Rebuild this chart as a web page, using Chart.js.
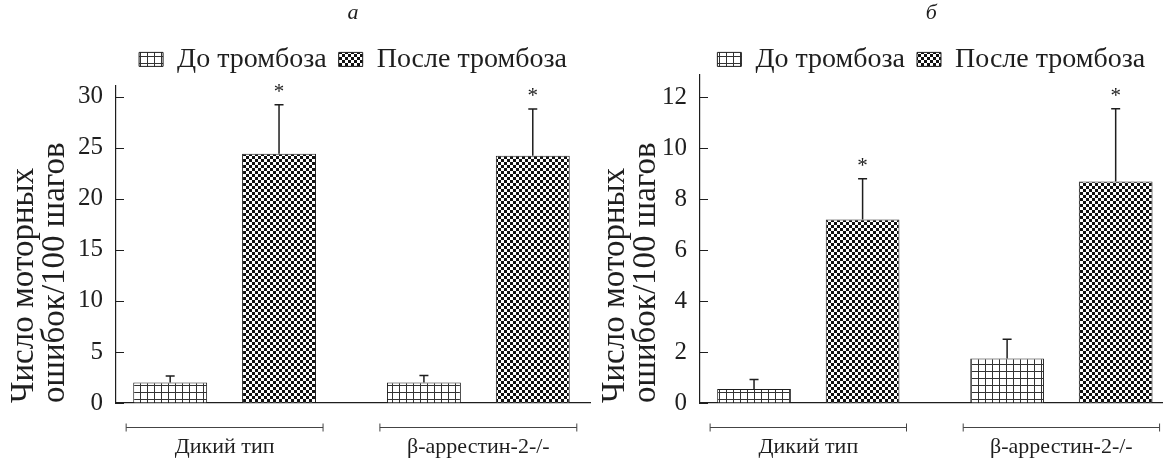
<!DOCTYPE html>
<html>
<head>
<meta charset="utf-8">
<script src="https://cdn.jsdelivr.net/npm/chart.js@4/dist/chart.umd.min.js"></script>
<style>
  html, body { margin: 0; padding: 0; background: #fff; }
  #wrap { position: relative; width: 1164px; height: 458px; }
  .panel { position: absolute; top: 0; height: 458px; }
</style>
</head>
<body>
<div id="wrap">
  <div class="panel" style="left:0;width:600px"><canvas id="chartA" width="600" height="458"></canvas></div>
  <div class="panel" style="left:600px;width:564px"><canvas id="chartB" width="564" height="458"></canvas></div>
</div>
<script>
/* ---------- data ---------- */
const categories = ["Дикий тип", "β-аррестин-2-/-"];
const seriesNames = ["До тромбоза", "После тромбоза"];

// panel а
const beforeA = [2.0, 2.0];
const beforeErrA = [0.65, 0.7];
const afterA = [24.4, 24.2];
const afterErrA = [4.8, 4.6];
const ticksA = [0, 5, 10, 15, 20, 25, 30];

// panel б
const beforeB = [0.55, 1.75];
const beforeErrB = [0.37, 0.75];
const afterB = [7.2, 8.7];
const afterErrB = [1.6, 2.85];
const ticksB = [0, 2, 4, 6, 8, 10, 12];

const yTitle = ["Число моторных", "ошибок/100 шагов"];
const INK = "#1e1e1e";
const SERIF = "'Liberation Serif', 'DejaVu Serif', serif";

Chart.defaults.font.family = SERIF;
Chart.defaults.color = INK;

/* ---------- fill patterns ---------- */
function gridPattern() {
  const c = document.createElement("canvas");
  c.width = 7; c.height = 7;
  const g = c.getContext("2d");
  g.fillStyle = "#fff";
  g.fillRect(0, 0, 7, 7);
  g.fillStyle = "#333";
  g.fillRect(0, 0, 7, 1);
  g.fillRect(0, 0, 1, 7);
  return g.createPattern(c, "repeat");
}

function checkerPattern() {
  const c = document.createElement("canvas");
  c.width = 6; c.height = 6;
  const g = c.getContext("2d");
  g.fillStyle = "#fff";
  g.fillRect(0, 0, 6, 6);
  g.fillStyle = "#111";
  g.fillRect(0, 0, 3, 3);
  g.fillRect(3, 3, 3, 3);
  return g.createPattern(c, "repeat");
}

/* ---------- plugins ---------- */
// trims / grows the legend box so the plot top lands where we want it
const legendGap = {
  id: "legendGap",
  beforeInit(chart, args, opts) {
    const fitFn = chart.legend.fit;
    chart.legend.fit = function fit() {
      fitFn.bind(chart.legend)();
      this.height += opts.extra || 0;
    };
  }
};

const errorBars = {
  id: "errorBars",
  afterDatasetsDraw(chart) {
    const ctx = chart.ctx;
    const y = chart.scales.y;
    ctx.save();
    ctx.strokeStyle = INK;
    ctx.fillStyle = INK;
    ctx.lineWidth = 1.5;
    chart.data.datasets.forEach((ds, di) => {
      const meta = chart.getDatasetMeta(di);
      meta.data.forEach((bar, i) => {
        const top = y.getPixelForValue(ds.data[i].y + ds.errors[i]);
        ctx.beginPath();
        ctx.moveTo(bar.x, bar.y);
        ctx.lineTo(bar.x, top);
        ctx.moveTo(bar.x - 4.5, top);
        ctx.lineTo(bar.x + 4.5, top);
        ctx.stroke();
        if (ds.star) {
          ctx.font = "21px " + SERIF;
          ctx.textAlign = "center";
          ctx.textBaseline = "alphabetic";
          ctx.fillText("*", bar.x, top - 7);
        }
      });
    });
    ctx.restore();
  }
};

const innerTicks = {
  id: "innerTicks",
  afterDraw(chart) {
    const ctx = chart.ctx;
    const y = chart.scales.y;
    ctx.save();
    ctx.strokeStyle = INK;
    ctx.lineWidth = 1;
    y.ticks.forEach((t, i) => {
      const py = Math.round(y.getPixelForTick(i)) + 0.5;
      ctx.beginPath();
      ctx.moveTo(y.right, py);
      ctx.lineTo(y.right + 8, py);
      ctx.stroke();
    });
    ctx.restore();
  }
};

const groupBrackets = {
  id: "groupBrackets",
  afterDraw(chart) {
    const ctx = chart.ctx;
    const x = chart.scales.x;
    const step = x.getPixelForValue(2) - x.getPixelForValue(1);
    const by = Math.round(chart.chartArea.bottom + 24) + 0.5;
    ctx.save();
    ctx.strokeStyle = "#444";
    ctx.lineWidth = 1;
    x.ticks.forEach((t) => {
      const cx = x.getPixelForValue(t.value);
      const l = cx - step * 0.388, r = cx + step * 0.388;
      ctx.beginPath();
      ctx.moveTo(l, by); ctx.lineTo(r, by);
      ctx.moveTo(l, by - 4); ctx.lineTo(l, by + 4);
      ctx.moveTo(r, by - 4); ctx.lineTo(r, by + 4);
      ctx.stroke();
    });
    ctx.restore();
  }
};

/* ---------- chart builder ---------- */
function makeChart(id, letter, before, beforeErr, after, afterErr, yTicks, yMax, xMax, opts) {
  const pos = categories.map((_, i) => i + 1);

  return new Chart(document.getElementById(id), {
    type: "bar",
    data: {
      datasets: [
        {
          label: seriesNames[0],
          data: pos.map((p, i) => ({ x: p, y: before[i] })),
          errors: beforeErr,
          backgroundColor: gridPattern(),
          borderColor: INK,
          borderWidth: 1,
          categoryPercentage: 0.858,
          barPercentage: 0.679
        },
        {
          label: seriesNames[1],
          data: pos.map((p, i) => ({ x: p, y: after[i] })),
          errors: afterErr,
          star: true,
          backgroundColor: checkerPattern(),
          borderColor: INK,
          borderWidth: 1,
          categoryPercentage: 0.858,
          barPercentage: 0.679
        }
      ]
    },
    plugins: [legendGap, errorBars, innerTicks, groupBrackets],
    options: {
      responsive: false,
      animation: false,
      layout: { padding: { left: 0, right: opts.right, top: 0, bottom: 0 } },
      plugins: {
        legendGap: { extra: opts.legendExtra },
        title: {
          display: true,
          fullSize: false,
          text: letter,
          font: { size: 22, style: "italic", weight: "normal" },
          padding: { top: 0, bottom: 7 }
        },
        legend: {
          fullSize: false,
          labels: {
            boxWidth: 24,
            boxHeight: 14,
            padding: 12,
            font: { size: 28 },
            color: INK
          }
        },
        tooltip: { enabled: false }
      },
      scales: {
        x: {
          type: "linear",
          min: 0.572,
          max: xMax,
          offset: false,
          afterBuildTicks: (s) => { s.ticks = pos.map((p) => ({ value: p })); },
          afterFit: (s) => { s.height = 55; },
          grid: { display: true, offset: false, drawOnChartArea: false, drawTicks: false },
          border: { display: true, color: INK, width: 1.2 },
          ticks: {
            padding: 31,
            font: { size: 22 },
            callback: (v) => categories[v - 1] || ""
          }
        },
        y: {
          min: 0,
          max: yMax,
          afterBuildTicks: (s) => { s.ticks = yTicks.map((v) => ({ value: v })); },
          afterFit: (s) => { s.width = opts.axisX; },
          grid: { display: true, drawOnChartArea: false, drawTicks: false },
          border: { display: true, color: INK, width: 1.2 },
          ticks: {
            padding: 13,
            font: { size: 25 }
          },
          title: {
            display: true,
            align: "start",
            text: yTitle,
            font: { size: 33, lineHeight: 0.93 },
            padding: { top: opts.titlePad, bottom: 0 }
          }
        }
      }
    }
  });
}

makeChart("chartA", "а", beforeA, beforeErrA, afterA, afterErrA, ticksA, 31.1, 2.44,
  { right: 10, axisX: 116, titlePad: 9, legendExtra: 2 });
makeChart("chartB", "б", beforeB, beforeErrB, afterB, afterErrB, ticksB, 12.9, 2.40,
  { right: 0, axisX: 100, titlePad: 0, legendExtra: -9 });
</script>
</body>
</html>
